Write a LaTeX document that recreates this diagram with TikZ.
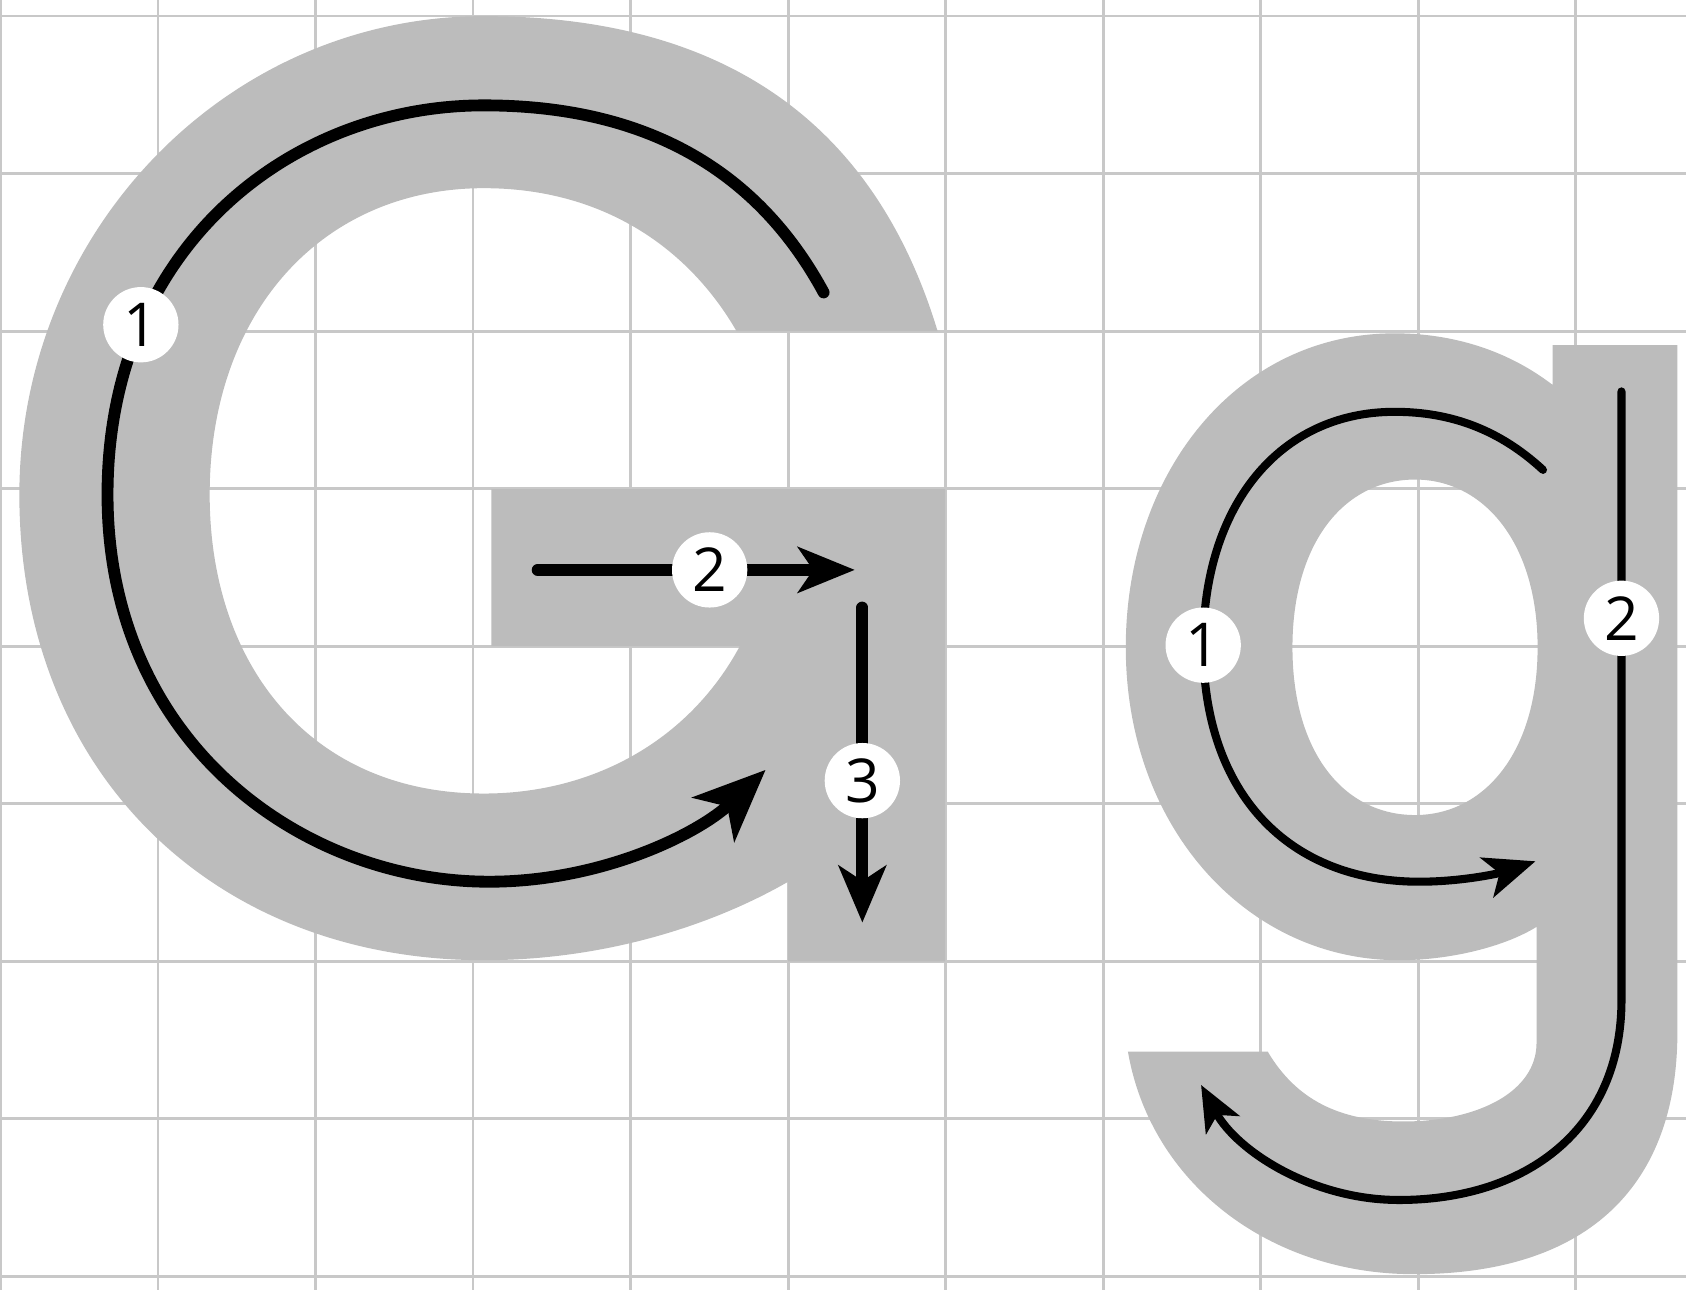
\documentclass[tikz,border=0pt]{standalone}
\usepackage{fontspec}
\setsansfont{Open Sans}
\usepackage{tikz}
\usetikzlibrary{arrows.meta}
\definecolor{lettergray}{RGB}{188,188,188}
\definecolor{gridgray}{RGB}{200,200,200}

\begin{document}
\begin{tikzpicture}[
    x=0.01cm, y=-0.01cm,
    % ── Styles ──
    gridline/.style={draw=gridgray, line width=0.025cm},
    letter/.style={fill=lettergray},
    bigstroke/.style={line width=0.11cm, line cap=round, black},
    smallstroke/.style={line width=0.075cm, line cap=round, black},
    num/.style={circle, fill=white, minimum size=0.7cm, inner sep=0pt,
                font=\sffamily\fontsize{16}{16}\selectfont}
]
\useasboundingbox (0,0) rectangle (1568,1200);

% ═══ Grid ═══
\foreach \k in {0,...,10}
  \draw[gridline] ({0.5+146.5*\k},0) -- ({0.5+146.5*\k},1200);
\foreach \k in {0,...,8}
  \draw[gridline] (0,{15+146.5*\k}) -- (1568,{15+146.5*\k});

% ═══ Capital G ═══
\fill[letter] (872,308) .. controls (815,120) and (680,15) .. (450,15)
  .. controls (211,15) and (18,215) .. (18,460)
  .. controls (18,720) and (200,893) .. (450,893)
  .. controls (560,893) and (660,862) .. (733,820)
  -- (733,894) -- (879,894) -- (879,455) -- (457,455) -- (457,601) -- (688,601)
  .. controls (640,690) and (550,738) .. (450,738)
  .. controls (290,738) and (195,620) .. (195,460)
  .. controls (195,290) and (300,175) .. (450,175)
  .. controls (560,175) and (640,230) .. (685,308)
  -- cycle;

% ═══ Small g ═══
\fill[letter, even odd rule] (1444,358) .. controls (1405,328) and (1355,310) .. (1297,310)
  .. controls (1150,310) and (1047,440) .. (1047,602)
  .. controls (1047,770) and (1160,893) .. (1301,893)
  .. controls (1350,893) and (1400,880) .. (1429,862)
  -- (1429,970)
  .. controls (1429,1015) and (1375,1043) .. (1305,1043)
  .. controls (1245,1043) and (1205,1022) .. (1179,978)
  -- (1049,978)
  .. controls (1070,1100) and (1180,1185) .. (1315,1185)
  .. controls (1480,1185) and (1560,1100) .. (1560,960)
  -- (1560,321) -- (1444,321) -- cycle
  (1430,602) .. controls (1430,700) and (1380,758) .. (1316,758)
  .. controls (1250,758) and (1202,700) .. (1202,602)
  .. controls (1202,505) and (1250,446) .. (1316,446)
  .. controls (1380,446) and (1430,505) .. (1430,602) -- cycle;

% ═══ Stroke ends ═══
\coordinate (G1start) at (766,272);
\coordinate (G1end)   at (712,716);
\coordinate (G2start) at (500,530);
\coordinate (G2end)   at (795,530);
\coordinate (G3start) at (802,565);
\coordinate (G3end)   at (802,858);
\coordinate (g1start) at (1435,437);
\coordinate (g1end)   at (1428,801);
\coordinate (g2start) at (1508,364);
\coordinate (g2end)   at (1117,1009);

% ═══ Strokes of G ═══
\draw[bigstroke, -{Stealth[length=19pt, width=16pt, inset=5pt]}] (G1start)
  .. controls (700,150) and (590,98) .. (450,98)
  .. controls (270,98) and (100,230) .. (100,460)
  .. controls (100,690) and (280,820) .. (455,820)
  .. controls (560,820) and (650,775) .. (G1end);
\draw[bigstroke, -{Stealth[length=15pt, width=12pt, inset=4pt]}] (G2start) -- (G2end);
\draw[bigstroke, -{Stealth[length=15pt, width=12.5pt, inset=4pt]}] (G3start) -- (G3end);

% ═══ Strokes of g ═══
\draw[smallstroke, -{Stealth[length=13.5pt, width=11pt, inset=3.5pt]}] (g1start)
  .. controls (1395,400) and (1350,383) .. (1297,383)
  .. controls (1190,383) and (1119,470) .. (1119,600)
  .. controls (1119,740) and (1200,820) .. (1320,820)
  .. controls (1360,820) and (1395,812) .. (g1end);
\draw[smallstroke, -{Stealth[length=12pt, width=10pt, inset=3pt]}] (g2start)
  -- (1508,930)
  .. controls (1508,1050) and (1420,1116) .. (1301,1116)
  .. controls (1220,1116) and (1150,1070) .. (g2end);

% ═══ Order numbers ═══
\node[num] (G1) at (131,302)  {1};
\node[num] (G2) at (660,530)  {2};
\node[num] (G3) at (802,726)  {3};
\node[num] (g1) at (1119,600) {1};
\node[num] (g2) at (1508,575) {2};

\end{tikzpicture}
\end{document}
